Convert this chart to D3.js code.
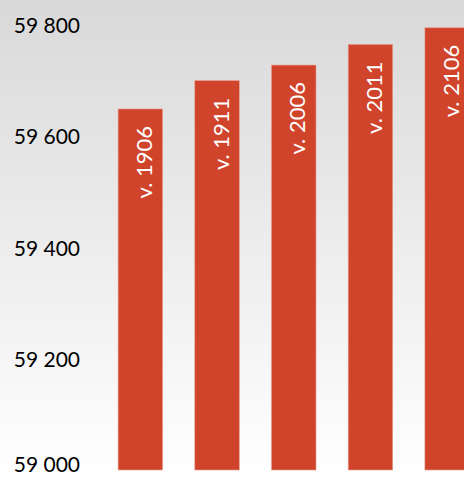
<!DOCTYPE html>
<html><head><meta charset="utf-8">
<script src="https://cdn.jsdelivr.net/npm/d3@7"></script>
<style>html,body{margin:0;padding:0;overflow:hidden;background:#fff}</style>
</head><body>
<script>
const categories = ["v. 1906", "v. 1911", "v. 2006", "v. 2011", "v. 2106"];
const values = [59649, 59700, 59728, 59765, 59795];
const tickValues = [59000, 59200, 59400, 59600, 59800];

const W = 464, H = 477;
const svg = d3.select("body").append("svg").attr("width", W).attr("height", H);
const defs = svg.append("defs");
const g = defs.append("linearGradient").attr("id","bg").attr("x1",0).attr("y1",0).attr("x2",0).attr("y2",1);
g.append("stop").attr("offset","0%").attr("stop-color","#d9d9d9");
g.append("stop").attr("offset","100%").attr("stop-color","#ffffff");
svg.append("rect").attr("width",W).attr("height",H).attr("fill","url(#bg)");

const y = d3.scaleLinear().domain([59000, 59800]).range([470, 25]);
const x = d3.scaleBand().domain(categories).range([102, 485.5]).paddingInner(0.42).paddingOuter(0.21);

const axis = d3.axisLeft(y).tickValues(tickValues).tickSize(0).tickPadding(0)
  .tickFormat(d => d3.format(",")(d).replace(/,/g, " "));
const ax = svg.append("g").attr("transform","translate(80,0)").call(axis);
ax.select(".domain").remove();
ax.selectAll("text").attr("font-family","Lato, sans-serif").attr("font-size",21).attr("fill","#000")
  .attr("dy", d => d === 59000 ? "0.08em" : "0.36em");

svg.selectAll("rect.bar").data(values).enter().append("rect").attr("class","bar")
  .attr("x",(d,i)=>x(categories[i])).attr("width",x.bandwidth())
  .attr("y",d=>y(d)).attr("height",d=>y(59000)-y(d))
  .attr("fill","#d0442c").attr("stroke","#e89a8c").attr("stroke-width",0.6);

svg.selectAll("text.lbl").data(values).enter().append("text").attr("class","lbl")
  .attr("transform",(d,i)=>`translate(${x(categories[i])+x.bandwidth()/2+11.5},${y(d)+17}) rotate(-90)`)
  .attr("text-anchor","end").attr("font-family","Lato, sans-serif").attr("font-size",22).attr("fill","#fff")
  .text((d,i)=>categories[i]);
</script>
</body></html>
